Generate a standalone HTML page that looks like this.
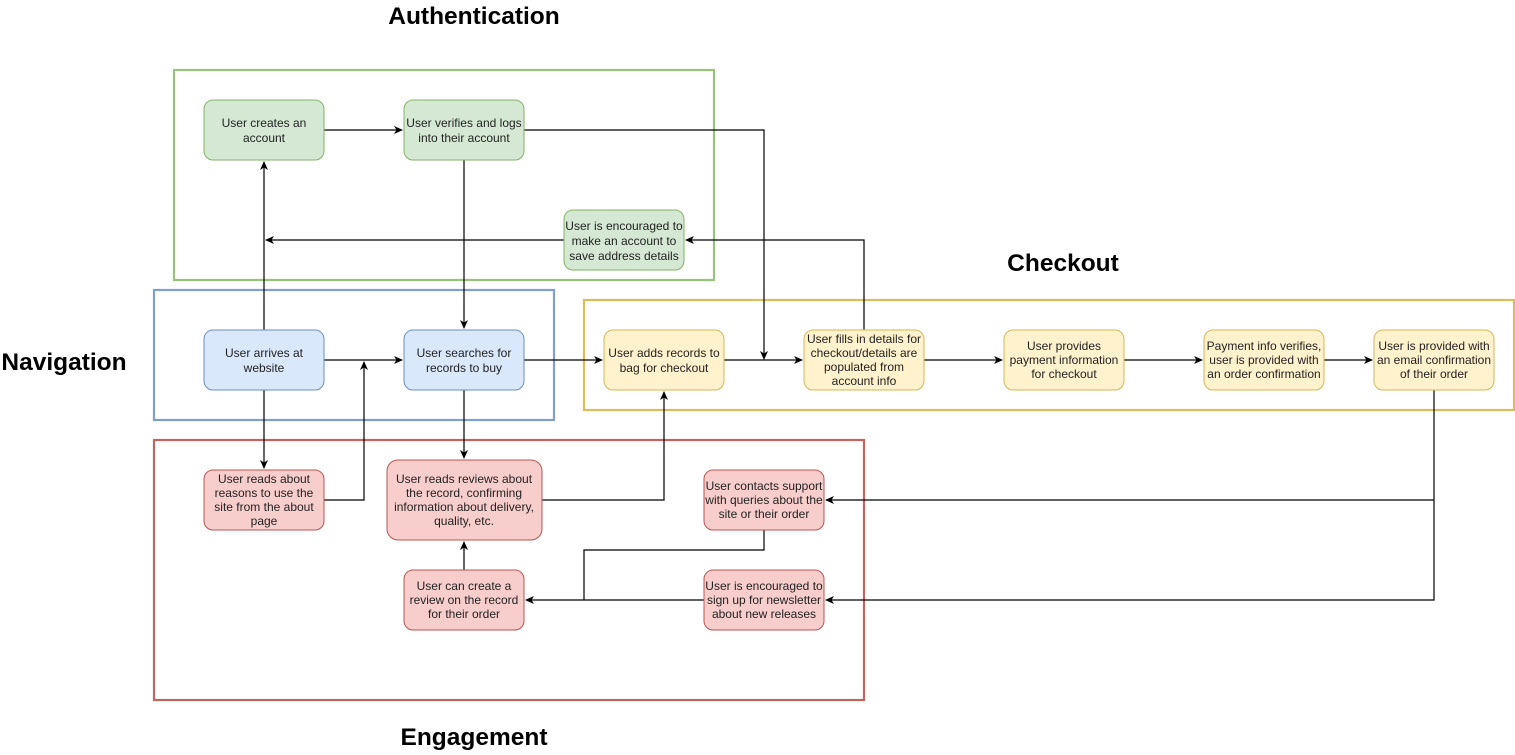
<!DOCTYPE html>
<html><head><meta charset="utf-8"><style>
html,body{margin:0;padding:0;background:#fff}
text{font-family:"Liberation Sans",Arial,sans-serif;fill:#222}
.t{font-size:12px;text-anchor:middle}
.h{font-size:24.5px;font-weight:bold;text-anchor:middle;fill:#000}
.e{stroke:#000;stroke-width:1.2;fill:none}
</style></head><body>
<svg width="1515" height="750" viewBox="0 0 1515 750" xmlns="http://www.w3.org/2000/svg">
<defs><marker id="a" markerWidth="10" markerHeight="10" refX="8" refY="5" orient="auto" markerUnits="userSpaceOnUse"><path d="M0,1 L9,5 L0,9 L2.5,5 Z" fill="#000"/></marker></defs>
<rect x="174" y="70" width="540" height="210" fill="none" stroke="#97c37a" stroke-width="2.2"/>
<rect x="154" y="290" width="400" height="130" fill="none" stroke="#7f9fd1" stroke-width="2.2"/>
<rect x="584" y="300" width="930" height="110" fill="none" stroke="#dcbd5c" stroke-width="2.2"/>
<rect x="154" y="440" width="710" height="260" fill="none" stroke="#c46461" stroke-width="2.2"/>
<text class="h" x="474" y="24">Authentication</text>
<text class="h" x="1063" y="271">Checkout</text>
<text class="h" x="64" y="370">Navigation</text>
<text class="h" x="474" y="745">Engagement</text>
<g class="e">
<path d="M324,130H402" marker-end="url(#a)"/>
<path d="M524,130H764V359" marker-end="url(#a)"/>
<path d="M464,160V328" marker-end="url(#a)"/>
<path d="M264,330V162" marker-end="url(#a)"/>
<path d="M564,240H266" marker-end="url(#a)"/>
<path d="M864,330V240H686" marker-end="url(#a)"/>
<path d="M324,360H402" marker-end="url(#a)"/>
<path d="M264,390V468" marker-end="url(#a)"/>
<path d="M324,500H364V362" marker-end="url(#a)"/>
<path d="M524,360H602" marker-end="url(#a)"/>
<path d="M464,390V458" marker-end="url(#a)"/>
<path d="M542,500H664V392" marker-end="url(#a)"/>
<path d="M724,360H802" marker-end="url(#a)"/>
<path d="M924,360H1002" marker-end="url(#a)"/>
<path d="M1124,360H1202" marker-end="url(#a)"/>
<path d="M1324,360H1372" marker-end="url(#a)"/>
<path d="M1434,390V600H826" marker-end="url(#a)"/>
<path d="M1434,500H826" marker-end="url(#a)"/>
<path d="M764,530V550H584V600"/>
<path d="M704,600H526" marker-end="url(#a)"/>
<path d="M464,570V542" marker-end="url(#a)"/>
</g>
<g stroke-width="1">
<g fill="#d5e8d4" stroke="#82b366">
<rect x="204" y="100" width="120" height="60" rx="9"/>
<rect x="404" y="100" width="120" height="60" rx="9"/>
<rect x="564" y="210" width="120" height="60" rx="9"/>
</g>
<g fill="#dae8fc" stroke="#6c8ebf">
<rect x="204" y="330" width="120" height="60" rx="9"/>
<rect x="404" y="330" width="120" height="60" rx="9"/>
</g>
<g fill="#fff2cc" stroke="#d6b656">
<rect x="604" y="330" width="120" height="60" rx="9"/>
<rect x="804" y="330" width="120" height="60" rx="9"/>
<rect x="1004" y="330" width="120" height="60" rx="9"/>
<rect x="1204" y="330" width="120" height="60" rx="9"/>
<rect x="1374" y="330" width="120" height="60" rx="9"/>
</g>
<g fill="#f8cecc" stroke="#b85450">
<rect x="204" y="470" width="120" height="60" rx="9"/>
<rect x="387" y="460" width="155" height="80" rx="11"/>
<rect x="704" y="470" width="120" height="60" rx="9"/>
<rect x="404" y="570" width="120" height="60" rx="9"/>
<rect x="704" y="570" width="120" height="60" rx="9"/>
</g>
</g>
<g class="t">
<text x="264" y="127">User creates an</text><text x="264" y="142">account</text>
<text x="464" y="127">User verifies and logs</text><text x="464" y="142">into their account</text>
<text x="624" y="230">User is encouraged to</text><text x="624" y="245">make an account to</text><text x="624" y="260">save address details</text>
<text x="264" y="357">User arrives at</text><text x="264" y="372">website</text>
<text x="464" y="357">User searches for</text><text x="464" y="372">records to buy</text>
<text x="664" y="357">User adds records to</text><text x="664" y="372">bag for checkout</text>
<text x="864" y="343">User fills in details for</text><text x="864" y="357">checkout/details are</text><text x="864" y="371">populated from</text><text x="864" y="385">account info</text>
<text x="1064" y="350">User provides</text><text x="1064" y="364">payment information</text><text x="1064" y="378">for checkout</text>
<text x="1264" y="350">Payment info verifies,</text><text x="1264" y="364">user is provided with</text><text x="1264" y="378">an order confirmation</text>
<text x="1434" y="350">User is provided with</text><text x="1434" y="364">an email confirmation</text><text x="1434" y="378">of their order</text>
<text x="264" y="483">User reads about</text><text x="264" y="497">reasons to use the</text><text x="264" y="511">site from the about</text><text x="264" y="525">page</text>
<text x="464" y="483">User reads reviews about</text><text x="464" y="497">the record, confirming</text><text x="464" y="511">information about delivery,</text><text x="464" y="525">quality, etc.</text>
<text x="764" y="490">User contacts support</text><text x="764" y="504">with queries about the</text><text x="764" y="518">site or their order</text>
<text x="464" y="590">User can create a</text><text x="464" y="604">review on the record</text><text x="464" y="618">for their order</text>
<text x="764" y="590">User is encouraged to</text><text x="764" y="604">sign up for newsletter</text><text x="764" y="618">about new releases</text>
</g>
</svg>
</body></html>
